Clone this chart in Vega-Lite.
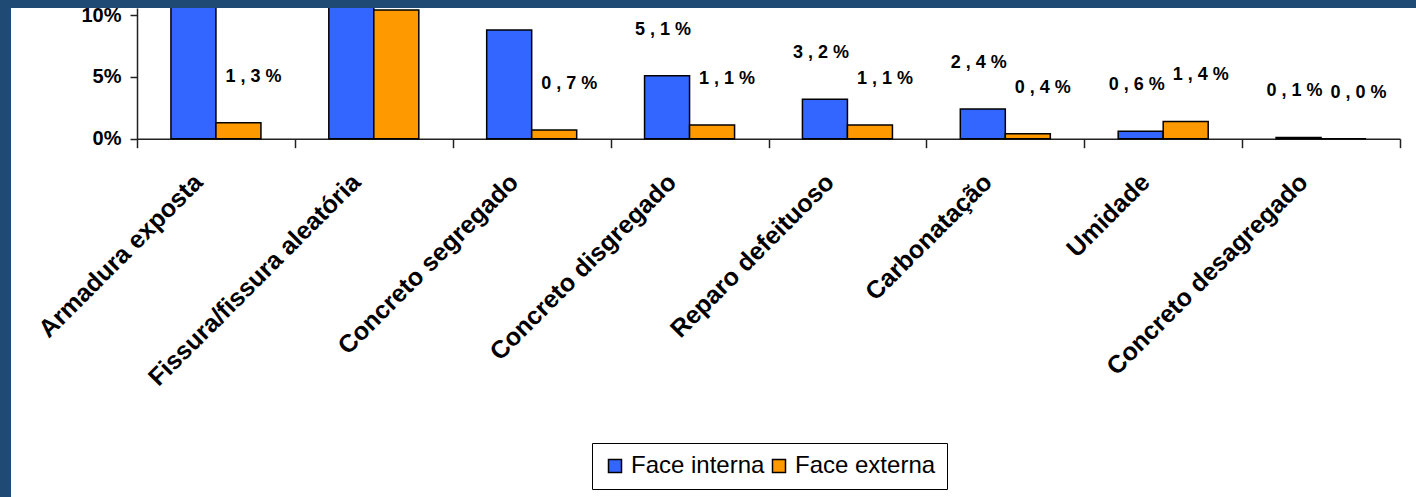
{
  "$schema": "https://vega.github.io/schema/vega-lite/v6.json",
  "width": 1416,
  "height": 497,
  "autosize": {"type": "fit", "contains": "padding"},
  "padding": {"left": 2, "top": 5, "right": 0, "bottom": 0},
  "background": "#1F4A73",
  "config": {
    "view": {"fill": "white", "stroke": null},
    "font": "Liberation Sans",
    "locale": {
      "number": {
        "decimal": " , ",
        "thousands": ".",
        "grouping": [3],
        "currency": ["R$", ""],
        "percent": " %"
      }
    }
  },
  "data": {
    "values": [
      {"defeito": "Armadura exposta", "face": "Face interna", "pct": 0.21},
      {"defeito": "Armadura exposta", "face": "Face externa", "pct": 0.013},
      {"defeito": "Fissura/fissura aleatória", "face": "Face interna", "pct": 0.17},
      {"defeito": "Fissura/fissura aleatória", "face": "Face externa", "pct": 0.104},
      {"defeito": "Concreto segregado", "face": "Face interna", "pct": 0.088},
      {"defeito": "Concreto segregado", "face": "Face externa", "pct": 0.007},
      {"defeito": "Concreto disgregado", "face": "Face interna", "pct": 0.051},
      {"defeito": "Concreto disgregado", "face": "Face externa", "pct": 0.011},
      {"defeito": "Reparo defeituoso", "face": "Face interna", "pct": 0.032},
      {"defeito": "Reparo defeituoso", "face": "Face externa", "pct": 0.011},
      {"defeito": "Carbonatação", "face": "Face interna", "pct": 0.024},
      {"defeito": "Carbonatação", "face": "Face externa", "pct": 0.004},
      {"defeito": "Umidade", "face": "Face interna", "pct": 0.006},
      {"defeito": "Umidade", "face": "Face externa", "pct": 0.014},
      {"defeito": "Concreto desagregado", "face": "Face interna", "pct": 0.001},
      {"defeito": "Concreto desagregado", "face": "Face externa", "pct": 0.0}
    ]
  },
  "encoding": {
    "x": {
      "field": "defeito",
      "type": "nominal",
      "sort": null,
      "scale": {"range": [126, 1389], "paddingInner": 0, "paddingOuter": 0},
      "axis": {
        "title": null,
        "offset": -358.3,
        "tickBand": "extent",
        "labelAngle": -45,
        "labelAlign": "right",
        "labelBaseline": "middle",
        "labelFontSize": 25,
        "labelFontWeight": "bold",
        "labelColor": "black",
        "labelPadding": 30,
        "labelOffset": -18,
        "labelLimit": 400,
        "labelOverlap": false,
        "labelBound": false,
        "tickSize": 9,
        "tickWidth": 1.5,
        "tickColor": "#222222",
        "domainColor": "#222222",
        "domainWidth": 1.5,
        "grid": false
      }
    },
    "xOffset": {
      "field": "face",
      "type": "nominal",
      "sort": ["Face interna", "Face externa"],
      "scale": {"paddingInner": 0, "paddingOuter": 0.754}
    },
    "y": {
      "field": "pct",
      "type": "quantitative",
      "scale": {"domain": [0, 0.1057], "range": [130.7, 0], "nice": false},
      "axis": {
        "title": null,
        "values": [0, 0.05, 0.1],
        "labelExpr": "round(datum.value * 100) + '%'",
        "offset": -126,
        "tickSize": 7,
        "tickWidth": 1.5,
        "tickColor": "#222222",
        "domainColor": "#222222",
        "domainWidth": 1.5,
        "labelFontSize": 20,
        "labelFontWeight": "bold",
        "labelColor": "black",
        "labelPadding": 9,
        "grid": false
      }
    }
  },
  "layer": [
    {
      "mark": {"type": "bar", "clip": true, "stroke": "black", "strokeWidth": 1.5},
      "encoding": {
        "color": {
          "field": "face",
          "type": "nominal",
          "scale": {"domain": ["Face interna", "Face externa"], "range": ["#3366FF", "#FF9900"]},
          "legend": {
            "title": null,
            "orient": "none",
            "legendX": 581,
            "legendY": 435,
            "direction": "horizontal",
            "fillColor": "white",
            "strokeColor": "black",
            "padding": 11,
            "symbolType": "square",
            "symbolSize": 169,
            "symbolStrokeColor": "black",
            "symbolStrokeWidth": 1.5,
            "labelFont": "Liberation Sans",
            "labelFontSize": 24,
            "labelColor": "black",
            "labelOffset": 4,
            "columnPadding": 2,
            "labelLimit": 300
          }
        }
      }
    },
    {
      "transform": [{"filter": "datum.face === 'Face interna' && datum.pct < 0.06"}],
      "mark": {"type": "text", "clip": true, "dy": -46, "dx": -4, "fontSize": 18, "fontWeight": "bold", "color": "black"},
      "encoding": {"text": {"field": "pct", "type": "quantitative", "format": ".1%"}}
    },
    {
      "transform": [{"filter": "datum.face === 'Face externa' && datum.pct < 0.06"}],
      "mark": {"type": "text", "clip": true, "dy": -46, "dx": 15, "fontSize": 18, "fontWeight": "bold", "color": "black"},
      "encoding": {"text": {"field": "pct", "type": "quantitative", "format": ".1%"}}
    }
  ]
}
